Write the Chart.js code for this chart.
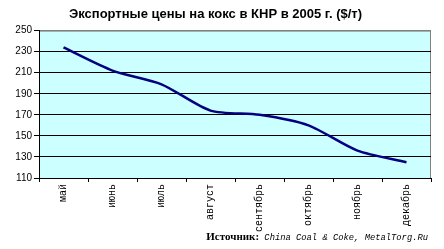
<!DOCTYPE html>
<html>
<head>
<meta charset="utf-8">
<script src="https://cdn.jsdelivr.net/npm/chart.js@4/dist/chart.umd.min.js"></script>
<style>
    html, body { margin: 0; padding: 0; background: #ffffff; }
    #wrap { width: 444px; height: 249px; position: relative; }
</style>
</head>
<body>
<div id="wrap"><canvas id="cokeChart" width="444" height="249"></canvas></div>
<script>
// Chart data
const months = ['май', 'июнь', 'июль', 'август', 'сентябрь', 'октябрь', 'ноябрь', 'декабрь'];
const prices = [234, 212, 199, 174, 170, 160, 136, 125];
const yTicks = [110, 130, 150, 170, 190, 210, 230, 250];

const titleText = 'Экспортные цены на кокс в КНР в 2005 г. ($/т)';
const sourceLabel = 'Источник:';
const sourceText = ' China Coal & Coke, MetalTorg.Ru';

// Plot background + gray border
const plotBg = {
    id: 'plotBg',
    beforeDraw(chart) {
        const { ctx, chartArea: a } = chart;
        ctx.save();
        ctx.fillStyle = '#ccffff';
        ctx.fillRect(a.left, a.top, a.right - a.left, a.bottom - a.top);
        ctx.strokeStyle = '#808080';
        ctx.lineWidth = 1;
        ctx.strokeRect(a.left + 0.5, a.top + 0.5, a.right - a.left - 1, a.bottom - a.top);
        ctx.restore();
    }
};

// Source line at bottom right
const sourceNote = {
    id: 'sourceNote',
    afterDraw(chart) {
        const ctx = chart.ctx;
        ctx.save();
        ctx.textBaseline = 'alphabetic';
        ctx.fillStyle = '#000';
        ctx.font = 'italic 8.8px "Liberation Mono", monospace';
        const w2 = ctx.measureText(sourceText).width;
        ctx.font = 'bold 11px "Liberation Serif", serif';
        const w1 = ctx.measureText(sourceLabel).width;
        const right = 428;
        const y = 240;
        ctx.fillText(sourceLabel, right - w2 - w1, y);
        ctx.font = 'italic 8.8px "Liberation Mono", monospace';
        ctx.fillText(sourceText, right - w2, y);
        ctx.restore();
    }
};

const ctx = document.getElementById('cokeChart').getContext('2d');
new Chart(ctx, {
    type: 'line',
    data: {
        labels: months,
        datasets: [{
            data: prices,
            borderColor: '#000080',
            borderWidth: 2.5,
            pointRadius: 0,
            tension: 0.25,
            fill: false
        }]
    },
    options: {
        responsive: false,
        animation: false,
        devicePixelRatio: 1,
        layout: { padding: { left: 0, right: 13, top: 0, bottom: 0 } },
        plugins: {
            legend: { display: false },
            tooltip: { enabled: false },
            title: {
                display: true,
                text: titleText,
                color: '#000',
                font: { family: '"Liberation Sans", Arial, sans-serif', size: 13, weight: 'bold' },
                padding: { top: 7, bottom: 8 }
            }
        },
        scales: {
            x: {
                offset: true,
                grid: {
                    offset: true,
                    drawOnChartArea: false,
                    drawTicks: true,
                    tickLength: 4,
                    tickColor: '#000'
                },
                border: { color: '#000', width: 1 },
                ticks: {
                    color: '#000',
                    autoSkip: false,
                    maxRotation: 90,
                    minRotation: 90,
                    padding: 2,
                    font: { family: '"Liberation Mono", "Courier New", monospace', size: 10 }
                },
                afterFit(scale) { scale.height = 71; }
            },
            y: {
                min: 110,
                max: 250,
                afterBuildTicks(scale) { scale.ticks = yTicks.map(v => ({ value: v })); },
                grid: {
                    color: c => (c.tick && c.tick.value === 250) ? '#808080' : '#000',
                    tickColor: '#000',
                    tickLength: 5,
                    lineWidth: 1
                },
                border: { color: '#000', width: 1 },
                ticks: {
                    color: '#000',
                    padding: 2,
                    font: { family: '"Liberation Sans", Arial, sans-serif', size: 10 }
                },
                afterFit(scale) { scale.width = 39; }
            }
        }
    },
    plugins: [plotBg, sourceNote]
});
</script>
</body>
</html>
